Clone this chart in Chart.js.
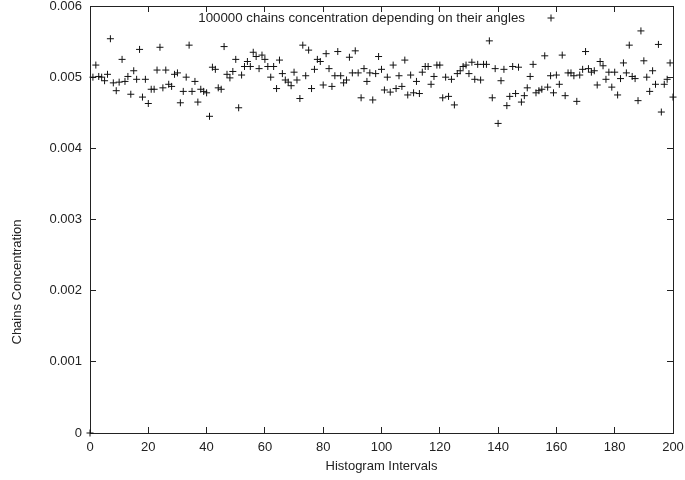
<!DOCTYPE html>
<html lang="en">
<head>
<meta charset="UTF-8">
<title>Chains Concentration</title>
<script src="https://cdn.jsdelivr.net/npm/chart.js"></script>
<style>
  body { margin: 0; background: #fff; }
  #chart { display: block; }
</style>
</head>
<body>
<canvas id="chart" width="685" height="480"></canvas>
<script>
const xRange = [0, 200];
const xStep = 20;
const yRange = [0, 0.006];
const yStep = 0.001;
const keyLabel = '100000 chains concentration depending on their angles';
const xTitle = 'Histogram Intervals';
const yTitle = 'Chains Concentration';

// one value per histogram interval, 0..200
const concentration = [
  0,       0.00500, 0.00517, 0.00501, 0.00500, 0.00495, 0.00504, 0.00554, 0.00492, 0.00481,
  0.00493, 0.00525, 0.00494, 0.00501, 0.00476, 0.00509, 0.00497, 0.00539, 0.00472, 0.00497,
  0.00463, 0.00483, 0.00483, 0.00510, 0.00542, 0.00485, 0.00510, 0.00490, 0.00487, 0.00504,
  0.00506, 0.00464, 0.00480, 0.00500, 0.00545, 0.00480, 0.00494, 0.00465, 0.00483, 0.00480,
  0.00478, 0.00445, 0.00514, 0.00511, 0.00485, 0.00483, 0.00543, 0.00504, 0.00499, 0.00508,
  0.00525, 0.00457, 0.00503, 0.00515, 0.00522, 0.00515, 0.00535, 0.00529, 0.00512, 0.00531,
  0.00525, 0.00515, 0.00500, 0.00515, 0.00484, 0.00524, 0.00505, 0.00496, 0.00493, 0.00488,
  0.00507, 0.00496, 0.00470, 0.00545, 0.00502, 0.00538, 0.00484, 0.00511, 0.00525, 0.00522,
  0.00489, 0.00533, 0.00512, 0.00487, 0.00502, 0.00536, 0.00502, 0.00492, 0.00496, 0.00528,
  0.00506, 0.00537, 0.00506, 0.00471, 0.00512, 0.00494, 0.00506, 0.00468, 0.00505, 0.00529,
  0.00511, 0.00482, 0.00500, 0.00479, 0.00517, 0.00484, 0.00502, 0.00487, 0.00524, 0.00475,
  0.00503, 0.00478, 0.00494, 0.00477, 0.00507, 0.00515, 0.00515, 0.00490, 0.00501, 0.00517,
  0.00517, 0.00471, 0.00500, 0.00473, 0.00497, 0.00461, 0.00505, 0.00509, 0.00515, 0.00517,
  0.00505, 0.00521, 0.00497, 0.00518, 0.00496, 0.00518, 0.00518, 0.00551, 0.00471, 0.00512,
  0.00435, 0.00495, 0.00511, 0.00460, 0.00473, 0.00515, 0.00477, 0.00514, 0.00465, 0.00474,
  0.00485, 0.00501, 0.00518, 0.00478, 0.00481, 0.00483, 0.00530, 0.00486, 0.00502, 0.00478,
  0.00503, 0.00490, 0.00531, 0.00474, 0.00506, 0.00506, 0.00502, 0.00466, 0.00503, 0.00511,
  0.00536, 0.00512, 0.00507, 0.00509, 0.00489, 0.00522, 0.00516, 0.00497, 0.00507, 0.00486,
  0.00507, 0.00475, 0.00498, 0.00520, 0.00506, 0.00545, 0.00501, 0.00498, 0.00467, 0.00565,
  0.00523, 0.00500, 0.00480, 0.00509, 0.00490, 0.00546, 0.00451, 0.00490, 0.00497, 0.00520,
  0.00472
];

const ink = '#222';
Chart.defaults.font.family = '"Liberation Sans", Arial, sans-serif';
Chart.defaults.font.size = 13;
Chart.defaults.color = ink;

function noPad(s) {
  s.paddingLeft = s.paddingRight = s.paddingTop = s.paddingBottom = 0;
}

// gnuplot-style key inside the frame, plus the y label
const keyPlugin = {
  id: 'gnuplotKey',
  afterDraw(chart) {
    const ctx = chart.ctx;
    const area = chart.chartArea;
    ctx.save();
    ctx.font = '13.3px "Liberation Sans", Arial, sans-serif';
    ctx.fillStyle = ink;
    ctx.strokeStyle = '#111';
    ctx.lineWidth = 1;
    ctx.textAlign = 'right';
    ctx.textBaseline = 'middle';
    ctx.fillText(keyLabel, area.right - 148, area.top + 12);
    Chart.helpers.drawPoint(ctx, { pointStyle: 'cross', radius: 3.5, borderWidth: 1 }, area.right - 122, area.top + 12);
    ctx.font = '13px "Liberation Sans", Arial, sans-serif';
    ctx.translate(17, 282);
    ctx.rotate(-Math.PI / 2);
    ctx.textAlign = 'center';
    ctx.fillText(yTitle, 0, 0);
    ctx.restore();
  }
};

const tickGrid = { drawOnChartArea: false, tickLength: -6, color: ink };
const frame = { color: ink, width: 1 };

new Chart(document.getElementById('chart'), {
  type: 'scatter',
  data: {
    datasets: [{
      label: keyLabel,
      data: concentration.map((v, i) => ({ x: i, y: v })),
      pointStyle: 'cross',
      pointRadius: 3.5,
      borderColor: '#111',
      backgroundColor: '#111',
      borderWidth: 1,
      clip: false
    }]
  },
  options: {
    responsive: false,
    animation: false,
    devicePixelRatio: 1,
    layout: { padding: { top: 6, right: 12, left: 0, bottom: 0 } },
    plugins: { legend: { display: false }, tooltip: { enabled: false } },
    scales: {
      x: {
        type: 'linear', position: 'bottom', min: xRange[0], max: xRange[1],
        ticks: { stepSize: xStep, padding: 13, maxRotation: 0, autoSkip: false },
        grid: tickGrid, border: frame,
        title: { display: true, text: xTitle, padding: { top: 0, bottom: 6 } },
        afterFit: s => { s.height = 47; noPad(s); }
      },
      x2: {
        type: 'linear', position: 'top', min: xRange[0], max: xRange[1],
        ticks: { stepSize: xStep, display: false },
        grid: tickGrid, border: frame,
        afterFit: s => { s.height = 0; noPad(s); }
      },
      y: {
        type: 'linear', position: 'left', min: yRange[0], max: yRange[1],
        ticks: { stepSize: yStep, padding: 14, autoSkip: false, callback: v => String(+v.toFixed(3)) },
        grid: tickGrid, border: frame,
        afterFit: s => { s.width = 90; noPad(s); }
      },
      y2: {
        type: 'linear', position: 'right', min: yRange[0], max: yRange[1],
        ticks: { stepSize: yStep, display: false },
        grid: tickGrid, border: frame,
        afterFit: s => { s.width = 0; noPad(s); }
      }
    }
  },
  plugins: [keyPlugin]
});
</script>
</body>
</html>
